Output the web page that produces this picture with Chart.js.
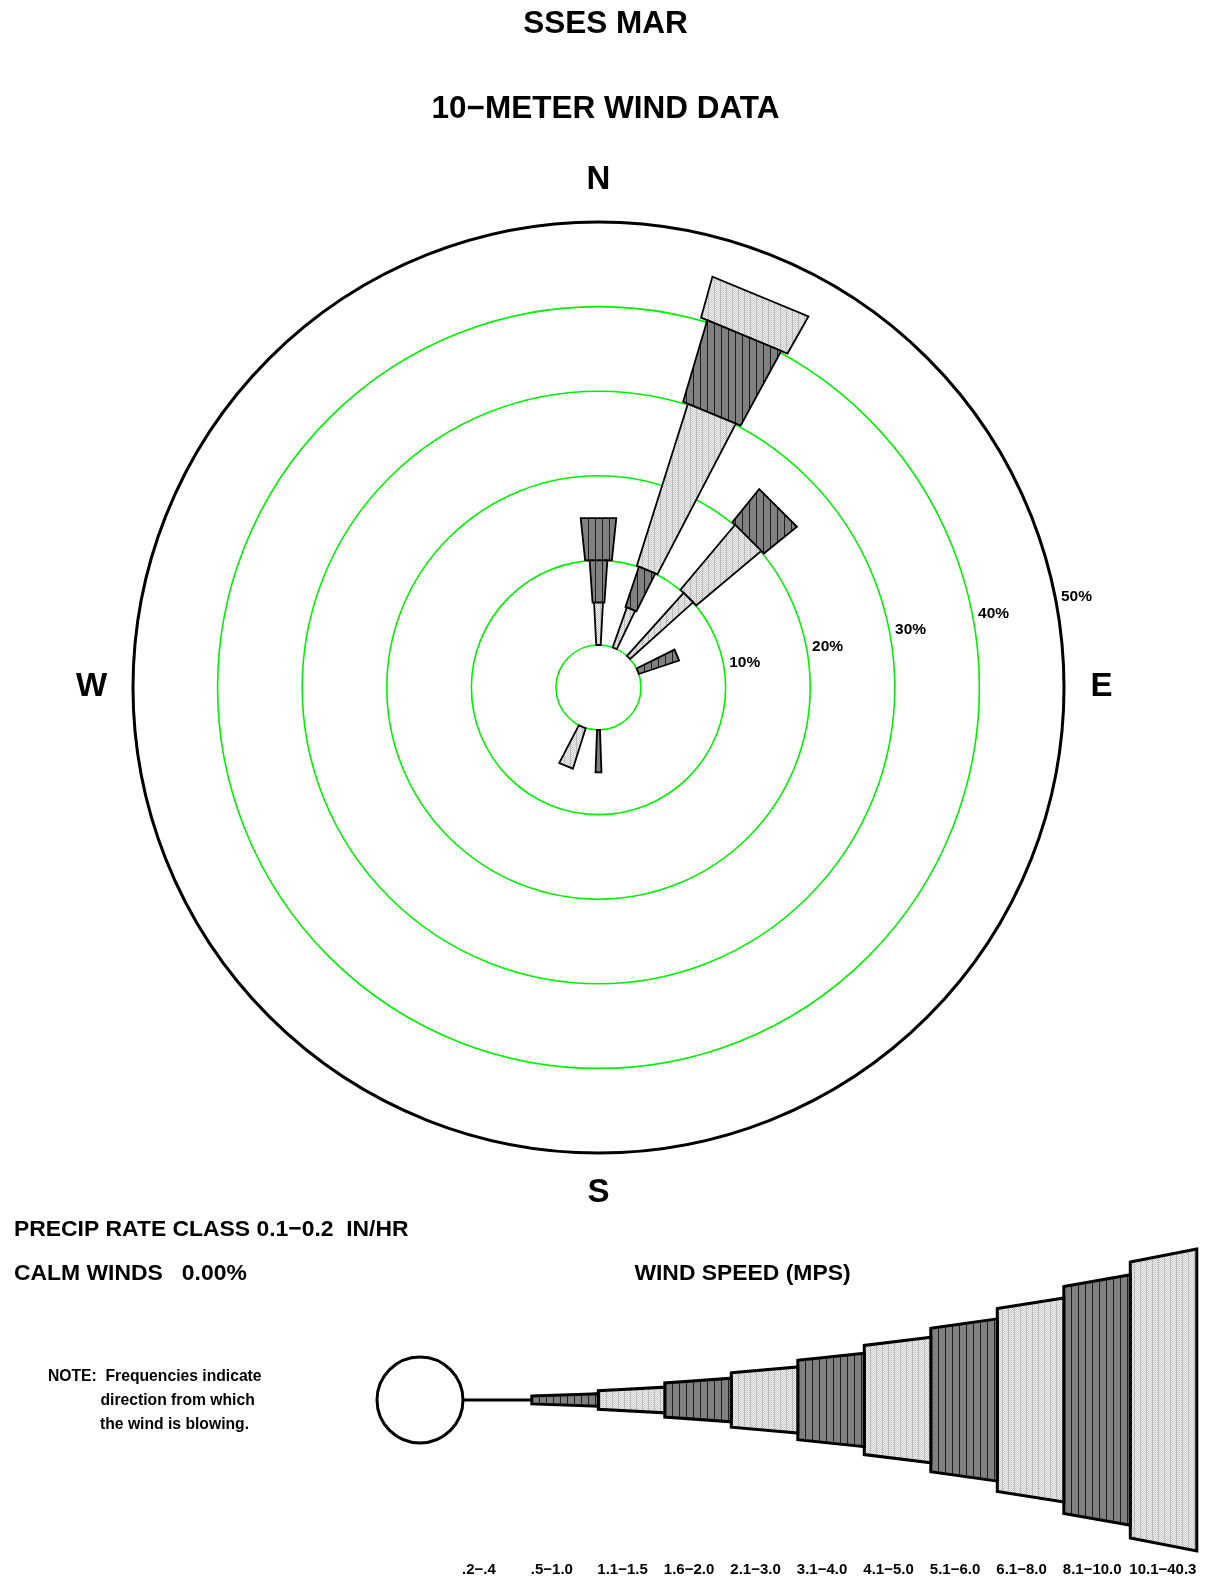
<!DOCTYPE html>
<html>
<head>
<meta charset="utf-8">
<title>SSES MAR - 10-Meter Wind Data</title>
<script src="https://cdn.jsdelivr.net/npm/chart.js@4.4.0/dist/chart.umd.min.js"></script>
<style>
  body { margin: 0; background: #fff; }
  canvas { display: block; }
</style>
</head>
<body>
<canvas id="rose" width="1211" height="1581"></canvas>
<script>
// wind directions (from which the wind blows), clockwise from north
const directions = ["N", "NNE", "NE", "ENE", "E", "ESE", "SE", "SSE",
                    "S", "SSW", "SW", "WSW", "W", "WNW", "NW", "NNW"];
const speedClasses = [".2−.4", ".5−1.0", "1.1−1.5", "1.6−2.0", "2.1−3.0", "3.1−4.0",
                      "4.1−5.0", "5.1−6.0", "6.1−8.0", "8.1−10.0", "10.1−40.3"];

// percent frequency per direction, one list per speed class (MPS)
const spd02to04  = [0, 0,  0, 0, 0, 0, 0, 0, 0, 0, 0, 0, 0, 0, 0, 0];
const spd05to10  = [0, 0,  0, 0, 0, 0, 0, 0, 5, 0, 0, 0, 0, 0, 0, 0];
const spd11to15  = [5, 5, 10, 0, 0, 0, 0, 0, 0, 0, 0, 0, 0, 0, 0, 0];
const spd16to20  = [5, 5,  0, 5, 0, 0, 0, 0, 0, 0, 0, 0, 0, 0, 0, 0];
const spd21to30  = [0, 20, 10, 0, 0, 0, 0, 0, 0, 5, 0, 0, 0, 0, 0, 0];
const spd31to40  = [5, 10, 5, 0, 0, 0, 0, 0, 0, 0, 0, 0, 0, 0, 0, 0];
const spd41to50  = [0, 5,  0, 0, 0, 0, 0, 0, 0, 0, 0, 0, 0, 0, 0, 0];
const spd51to60  = [0, 0,  0, 0, 0, 0, 0, 0, 0, 0, 0, 0, 0, 0, 0, 0];
const spd61to80  = [0, 0,  0, 0, 0, 0, 0, 0, 0, 0, 0, 0, 0, 0, 0, 0];
const spd81to100 = [0, 0,  0, 0, 0, 0, 0, 0, 0, 0, 0, 0, 0, 0, 0, 0];
const spd101to403 = [0, 0, 0, 0, 0, 0, 0, 0, 0, 0, 0, 0, 0, 0, 0, 0];

const ringTicks = [10, 20, 30, 40, 50];
const calmPct = 0.00;
const precipClass = "0.1−0.2";

const series = [spd02to04, spd05to10, spd11to15, spd16to20, spd21to30, spd31to40,
                spd41to50, spd51to60, spd61to80, spd81to100, spd101to403];

// layout: one unit on both axes = 1 percent on the rose
const PX = 8.46;
const PAGE_W = 1211, PAGE_H = 1581;
const CX = 598.5, CY = 687.5;          // rose centre on the page
const CALM = 42.5 / PX;                // calm circle radius
const LEG = {
  x: (420 - CX) / PX, y: -(1400 - CY) / PX,
  calm: 43 / PX, first: 111.8 / PX, step: 66.5 / PX
};

// each speed class gets a wider wedge: 2 degrees per class
const wedgeDeg = i => 2 * (i + 1);

const canvas = document.getElementById("rose");
const ctx = canvas.getContext("2d");

function makePattern(dark) {
  const t = document.createElement("canvas");
  t.width = dark ? 7 : 6;
  t.height = 2;
  const g = t.getContext("2d");
  for (let x = 0; x < t.width; x++) {
    for (let y = 0; y < 2; y++) {
      if (dark) g.fillStyle = x === 0 ? "#1e1e1e" : "#808080";
      else if (x === 0) g.fillStyle = "#bcbcbc";
      else g.fillStyle = (x + y) % 2 ? "#c4c4c4" : "#f6f6f6";
      g.fillRect(x, y, 1, 1);
    }
  }
  return ctx.createPattern(t, "repeat");
}
const darkFill = makePattern(true);
const lightFill = makePattern(false);
const fillFor = i => (i % 2 === 1 ? darkFill : lightFill);

// trapezoid along direction dir (deg from north), r0..r1 out from (ox, oy),
// sides opening at span degrees
function wedge(ox, oy, r0, r1, dir, span) {
  const a = dir * Math.PI / 180;
  const ux = Math.sin(a), uy = Math.cos(a);
  const t = Math.tan(span / 2 * Math.PI / 180);
  const pt = (r, s) => ({x: ox + r * ux + s * r * t * uy, y: oy + r * uy - s * r * t * ux});
  const p = [pt(r0, -1), pt(r1, -1), pt(r1, 1), pt(r0, 1)];
  p.push(p[0], p[1]);
  return p;
}

const datasets = [];

// rose spokes: stacked classes outward from the calm circle
directions.forEach((d, k) => {
  let cum = 0;
  series.forEach((s, i) => {
    const v = s[k];
    if (!v) return;
    datasets.push({
      data: wedge(0, 0, CALM + cum, CALM + cum + v, k * 22.5, wedgeDeg(i)),
      backgroundColor: fillFor(i),
      borderColor: "#000",
      borderWidth: 1.8,
      fill: "shape"
    });
    cum += v;
  });
});

// speed legend, pointing east
speedClasses.forEach((lab, i) => {
  if (i === 0) {
    datasets.push({
      data: [{x: LEG.x + LEG.calm, y: LEG.y}, {x: LEG.x + LEG.first, y: LEG.y}],
      borderColor: "#000",
      borderWidth: 3,
      fill: false
    });
    return;
  }
  const r0 = LEG.first + (i - 1) * LEG.step;
  datasets.push({
    data: wedge(LEG.x, LEG.y, r0, r0 + LEG.step, 90, wedgeDeg(i)),
    backgroundColor: fillFor(i),
    borderColor: "#000",
    borderWidth: 3,
    fill: "shape"
  });
});

const font = px => "bold " + px + "px 'Liberation Sans', Arial, Helvetica, sans-serif";

const roseFrame = {
  id: "roseFrame",
  beforeDatasetsDraw(chart) {
    const c = chart.ctx, xs = chart.scales.x, ys = chart.scales.y;
    const ox = xs.getPixelForValue(0), oy = ys.getPixelForValue(0);
    const rad = v => xs.getPixelForValue(CALM + v) - ox;
    c.save();
    [0].concat(ringTicks).forEach((v, n) => {
      const last = n === ringTicks.length;
      c.beginPath();
      c.arc(ox, oy, rad(v), 0, Math.PI * 2);
      c.strokeStyle = last ? "#000" : "#00f000";
      c.lineWidth = last ? 3 : 1.6;
      c.stroke();
    });
    // legend calm circle
    const lx = xs.getPixelForValue(LEG.x), ly = ys.getPixelForValue(LEG.y);
    c.beginPath();
    c.arc(lx, ly, xs.getPixelForValue(LEG.x + LEG.calm) - lx, 0, Math.PI * 2);
    c.strokeStyle = "#000";
    c.lineWidth = 3;
    c.stroke();
    c.restore();
  },
  afterDraw(chart) {
    const c = chart.ctx, xs = chart.scales.x, ys = chart.scales.y;
    const ox = xs.getPixelForValue(0), oy = ys.getPixelForValue(0);
    const rad = v => xs.getPixelForValue(CALM + v) - ox;
    c.save();
    c.fillStyle = "#000";
    c.textBaseline = "middle";

    c.textAlign = "center";
    c.font = font(31.5);
    c.fillText("SSES MAR", PAGE_W / 2, 24.5);
    c.fillText("10−METER WIND DATA", PAGE_W / 2, 109);

    // compass points
    c.font = font(33);
    c.fillText("N", ox, oy - 508);
    c.fillText("S", ox, oy + 505.5);
    c.fillText("W", ox - 507, oy - 1);
    c.fillText("E", ox + 503, oy - 1);

    // ring labels
    c.textAlign = "left";
    c.font = font(15.5);
    const a = 11.3 * Math.PI / 180;
    ringTicks.forEach(v => {
      const r = rad(v);
      c.fillText(v + "%", ox + r * Math.cos(a) + 6, oy - r * Math.sin(a) + 0.5);
    });

    c.font = font(22.9);
    c.fillText("PRECIP RATE CLASS " + precipClass + "  IN/HR", 14, 1230);
    c.fillText("CALM WINDS   " + calmPct.toFixed(2) + "%", 14, 1273.5);
    c.textAlign = "center";
    c.fillText("WIND SPEED (MPS)", 742.5, 1273.5);

    c.textAlign = "left";
    c.font = font(15.7);
    c.fillText("NOTE:  Frequencies indicate", 48, 1376.5);
    c.fillText("direction from which", 100.5, 1400.5);
    c.fillText("the wind is blowing.", 100, 1425);

    // legend class labels, left edge at each class start
    c.font = font(15);
    speedClasses.forEach((lab, i) => {
      const r = i === 0 ? LEG.calm : LEG.first + (i - 1) * LEG.step;
      c.fillText(lab, xs.getPixelForValue(LEG.x + r) - 1, 1570);
    });
    c.restore();
  }
};

new Chart(canvas, {
  type: "line",
  data: {datasets},
  options: {
    responsive: false,
    animation: false,
    devicePixelRatio: 1,
    events: [],
    layout: {padding: 0},
    elements: {
      point: {radius: 0},
      line: {tension: 0, borderJoinStyle: "miter"}
    },
    scales: {
      x: {type: "linear", display: false, min: -CX / PX, max: (PAGE_W - CX) / PX},
      y: {type: "linear", display: false, min: -(PAGE_H - CY) / PX, max: CY / PX}
    },
    plugins: {
      legend: {display: false},
      tooltip: {enabled: false},
      title: {display: false}
    }
  },
  plugins: [roseFrame]
});
</script>
</body>
</html>
